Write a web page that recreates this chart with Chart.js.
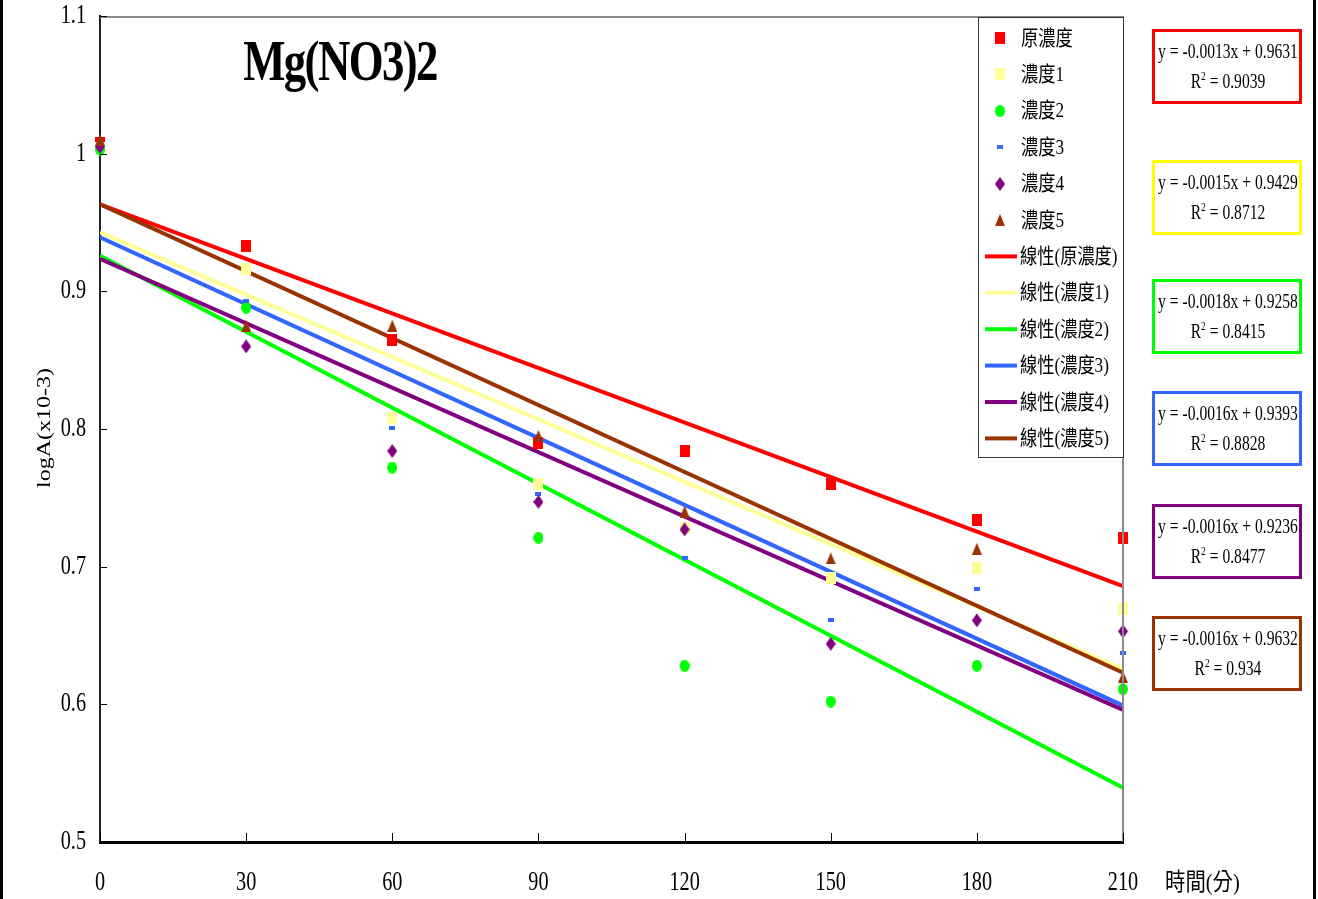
<!DOCTYPE html>
<html>
<head>
<meta charset="utf-8">
<title>Mg(NO3)2</title>
<script src="https://cdn.jsdelivr.net/npm/chart.js@4"></script>
<style>
  html, body { margin: 0; padding: 0; background: #fff; }
  canvas { display: block; }
</style>
</head>
<body>
<canvas id="chart" width="1318" height="899"></canvas>
<script>
const times = [0, 30, 60, 90, 120, 150, 180, 210];
const seriesNames = ["原濃度", "濃度1", "濃度2", "濃度3", "濃度4", "濃度5"];

// logA readings per concentration
const conc0 = [1.008, 0.933, 0.865, 0.790, 0.784, 0.760, 0.734, 0.721];
const conc1 = [1.004, 0.916, 0.808, 0.760, 0.728, 0.692, 0.699, 0.669];
const conc2 = [1.003, 0.888, 0.772, 0.721, 0.628, 0.602, 0.628, 0.611];
const conc3 = [1.006, 0.893, 0.801, 0.753, 0.706, 0.661, 0.684, 0.637];
const conc4 = [1.005, 0.860, 0.784, 0.747, 0.727, 0.644, 0.661, 0.653];
const conc5 = [1.010, 0.875, 0.875, 0.795, 0.740, 0.706, 0.713, 0.620];

// linear trendlines y = slope * x + intercept
const slopes = [-0.00132, -0.00151, -0.00184, -0.00162, -0.00156, -0.00162];
const intercepts = [0.9631, 0.9429, 0.9258, 0.9393, 0.9236, 0.9632];
const rSquared = ["0.9039", "0.8712", "0.8415", "0.8828", "0.8477", "0.934"];

const yTicks = [0.5, 0.6, 0.7, 0.8, 0.9, 1.0, 1.1];
const yTickLabels = ["0.5", "0.6", "0.7", "0.8", "0.9", "1", "1.1"];
const xTicks = [0, 30, 60, 90, 120, 150, 180, 210];

const allSeries = [conc0, conc1, conc2, conc3, conc4, conc5];
const markerColors = ["#ff0000", "#ffff99", "#00ff00", "#3366ff", "#800080", "#993300"];
const lineColors = ["#ff0000", "#ffff99", "#00ff00", "#3366ff", "#800080", "#993300"];
const boxColors = ["#ff0000", "#ffff00", "#00ff00", "#3366ff", "#800080", "#993300"];

const SERIF = "'Liberation Serif', 'Noto Sans CJK TC', serif";

function makeMarker(w, h, color, shape) {
  const c = document.createElement("canvas");
  c.width = w;
  c.height = h;
  const g = c.getContext("2d");
  g.fillStyle = color;
  g.beginPath();
  if (shape === "ellipse") {
    g.ellipse(w / 2, h / 2, w / 2, h / 2, 0, 0, Math.PI * 2);
  } else if (shape === "diamond") {
    g.moveTo(w / 2, 0); g.lineTo(w, h / 2); g.lineTo(w / 2, h); g.lineTo(0, h / 2);
  } else if (shape === "triangle") {
    g.moveTo(w / 2, 0); g.lineTo(w, h); g.lineTo(0, h);
  } else {
    g.rect(0, 0, w, h);
  }
  g.closePath();
  g.fill();
  return c;
}

const markers = [
  makeMarker(10, 12, markerColors[0], "rect"),
  makeMarker(10, 12, markerColors[1], "rect"),
  makeMarker(10, 12, markerColors[2], "ellipse"),
  makeMarker(6, 4, markerColors[3], "rect"),
  makeMarker(10, 14, markerColors[4], "diamond"),
  makeMarker(10, 12, markerColors[5], "triangle")
];

function squeezedText(ctx, text, x, y, font, sx, align, baseline) {
  ctx.save();
  ctx.font = font;
  ctx.textAlign = align || "left";
  ctx.textBaseline = baseline || "alphabetic";
  ctx.fillStyle = "#000";
  ctx.translate(x, y);
  ctx.scale(sx, 1);
  ctx.fillText(text, 0, 0);
  ctx.restore();
}

// later series sit on top of earlier ones; all markers above the trendlines
const pointSets = allSeries.map((vals, i) => ({
  label: seriesNames[i],
  data: times.map((t, j) => ({ x: t, y: vals[j] })),
  pointStyle: markers[i],
  pointRadius: 6,
  backgroundColor: markerColors[i],
  clip: false,
  order: -i
}));

const trendSets = slopes.map((m, i) => ({
  label: "線性(" + seriesNames[i] + ")",
  data: [
    { x: times[0], y: intercepts[i] + m * times[0] },
    { x: times[times.length - 1], y: intercepts[i] + m * times[times.length - 1] }
  ],
  showLine: true,
  pointRadius: 0,
  borderColor: lineColors[i],
  borderWidth: 4,
  fill: false,
  order: 6 - i
}));

// frame, ticks, labels, legend and equation boxes
const overlay = {
  id: "overlay",
  afterDraw(chart) {
    const ctx = chart.ctx;
    const area = chart.chartArea;
    const xs = chart.scales.x;
    const ys = chart.scales.y;

    ctx.save();
    // outer frame sides
    ctx.fillStyle = "#000";
    ctx.fillRect(0, 0, 3, 899);
    ctx.fillRect(1313, 0, 3, 899);

    // top and right edges of the plot
    ctx.strokeStyle = "#8c8c8c";
    ctx.lineWidth = 2;
    ctx.beginPath();
    ctx.moveTo(area.left, area.top + 1);
    ctx.lineTo(area.right, area.top + 1);
    ctx.moveTo(area.right, area.top);
    ctx.lineTo(area.right, area.bottom);
    ctx.stroke();

    // inward tick marks
    ctx.strokeStyle = "#000";
    ctx.lineWidth = 1;
    ctx.beginPath();
    yTicks.forEach(v => {
      const py = Math.round(ys.getPixelForValue(v)) + 0.5;
      ctx.moveTo(area.left, py);
      ctx.lineTo(area.left + 7, py);
    });
    xTicks.forEach(v => {
      const px = Math.round(xs.getPixelForValue(v)) + 0.5;
      ctx.moveTo(px, area.bottom);
      ctx.lineTo(px, area.bottom - 9);
    });
    ctx.stroke();

    // tick labels
    yTicks.forEach((v, i) => {
      squeezedText(ctx, yTickLabels[i], area.left - 14, ys.getPixelForValue(v), "27px " + SERIF, 0.75, "right", "middle");
    });
    xTicks.forEach(v => {
      squeezedText(ctx, String(v), xs.getPixelForValue(v), 890, "27px " + SERIF, 0.75, "center", "alphabetic");
    });
    squeezedText(ctx, "時間(分)", 1165, 890, "24px " + SERIF, 0.85, "left", "alphabetic");

    // y axis title
    ctx.save();
    ctx.translate(45, 428);
    ctx.rotate(-Math.PI / 2);
    ctx.scale(1, 0.8);
    ctx.font = "24px " + SERIF;
    ctx.textAlign = "center";
    ctx.textBaseline = "middle";
    ctx.fillStyle = "#000";
    ctx.fillText("logA(x10-3)", 0, 0);
    ctx.restore();

    // chart title
    ctx.save();
    ctx.letterSpacing = "-2px";
    squeezedText(ctx, "Mg(NO3)2", 340, 80, "bold 56px " + SERIF, 0.8, "center", "alphabetic");
    ctx.restore();

    // legend
    ctx.fillStyle = "#fff";
    ctx.fillRect(978, 17, 146, 440);
    ctx.strokeStyle = "#333";
    ctx.lineWidth = 1;
    ctx.strokeRect(978.5, 17.5, 145, 440);
    const rowY = i => 38 + i * 36.4;
    pointSets.forEach((ds, i) => {
      const y = rowY(i);
      const m = markers[i];
      ctx.drawImage(m, 1000 - m.width / 2, Math.round(y - m.height / 2));
      squeezedText(ctx, ds.label, 1021, y + 1, "21px " + SERIF, 0.82, "left", "middle");
    });
    trendSets.forEach((ds, i) => {
      const y = rowY(i + 6);
      ctx.strokeStyle = ds.borderColor;
      ctx.lineWidth = 4;
      ctx.beginPath();
      ctx.moveTo(985, y);
      ctx.lineTo(1017, y);
      ctx.stroke();
      squeezedText(ctx, ds.label, 1020, y + 1, "21px " + SERIF, 0.82, "left", "middle");
    });

    // trendline equation boxes
    const boxTops = [29, 160, 279, 391, 504, 616];
    boxTops.forEach((top, i) => {
      ctx.fillStyle = "#fff";
      ctx.fillRect(1152, top, 150, 75);
      ctx.strokeStyle = boxColors[i];
      ctx.lineWidth = 3;
      ctx.strokeRect(1153.5, top + 1.5, 147, 72);
      const cx = 1228;
      const eq = "y = " + slopes[i].toFixed(4) + "x + " + intercepts[i].toFixed(4);
      squeezedText(ctx, eq, cx, top + 29, "20px " + SERIF, 0.78, "center", "alphabetic");

      // R² line with raised 2
      const big = "20px " + SERIF;
      const small = "12px " + SERIF;
      const rest = " = " + rSquared[i];
      ctx.font = big;
      const wR = ctx.measureText("R").width;
      const wRest = ctx.measureText(rest).width;
      ctx.font = small;
      const w2 = ctx.measureText("2").width;
      const total = (wR + w2 + wRest) * 0.78;
      let x0 = cx - total / 2;
      const base = top + 59;
      squeezedText(ctx, "R", x0, base, big, 0.78, "left");
      x0 += wR * 0.78;
      squeezedText(ctx, "2", x0, base - 8, small, 0.78, "left");
      x0 += w2 * 0.78;
      squeezedText(ctx, rest, x0, base, big, 0.78, "left");
    });
    ctx.restore();
  }
};

const ctx = document.getElementById("chart").getContext("2d");
new Chart(ctx, {
  type: "scatter",
  data: { datasets: [...pointSets, ...trendSets] },
  options: {
    responsive: false,
    animation: false,
    layout: { padding: { left: 100, right: 195, top: 16, bottom: 57 } },
    plugins: {
      legend: { display: false },
      tooltip: { enabled: false }
    },
    scales: {
      x: {
        type: "linear",
        min: 0,
        max: 210,
        ticks: { display: false },
        grid: { display: false },
        border: { color: "#000", width: 3 },
        afterFit: s => { s.height = 0; }
      },
      y: {
        min: 0.5,
        max: 1.1,
        ticks: { display: false },
        grid: { display: false },
        border: { color: "#222", width: 2 },
        afterFit: s => { s.width = 0; }
      }
    }
  },
  plugins: [overlay]
});
</script>
</body>
</html>
